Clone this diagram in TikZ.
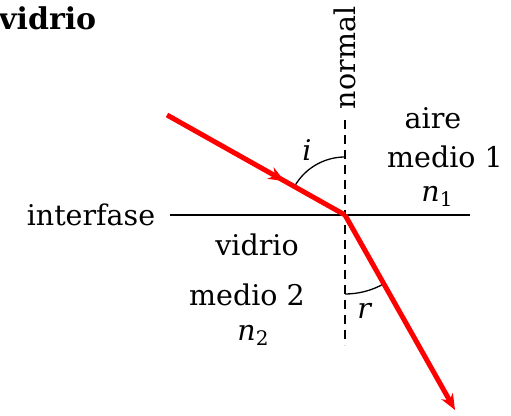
\documentclass[tikz,border=0pt]{standalone}
\usepackage{fontspec}
\setmainfont{DejaVu Serif}
\usetikzlibrary{arrows.meta,decorations.markings}
\newcommand{\sbs}[2]{\textit{#1}\raisebox{-0.35ex}{\fontsize{20}{24}\selectfont #2}}
\begin{document}
\begin{tikzpicture}[x=1pt,y=1pt,
  lbl/.style={font=\fontsize{28.5}{32}\selectfont, inner sep=0pt},
  ray/.style={red, line width=5pt},
  thin/.style={black, line width=1.6pt},
  dsh/.style={black, line width=1.6pt, dash pattern=on 9pt off 6pt}]
\useasboundingbox (0,0) rectangle (511,415);
\coordinate (O) at (345,200);
\coordinate (A) at (167,300);
\coordinate (B) at (455,5);
\coordinate (L) at (170,200);
\coordinate (R) at (470,200);
\coordinate (NT) at (345,295);
\coordinate (NB) at (345,70);
\node[lbl, font=\fontsize{30}{34}\selectfont\bfseries, anchor=west] (title) at (-1,397) {vidrio};
\node[lbl, rotate=90] (normal) at (345,357) {normal};
\node[lbl] (interfase) at (91,200) {interfase};
\node[lbl] (aire) at (433,297) {aire};
\node[lbl] (m1) at (445,258) {medio 1};
\node[lbl] (n1) at (437,219) {\sbs{n}{1}};
\node[lbl] (vid) at (257,170) {vidrio};
\node[lbl] (m2) at (247,120) {medio 2};
\node[lbl] (n2) at (253,80) {\sbs{n}{2}};
\node[lbl] (ilab) at (307,265) {\textit{i}};
\node[lbl] (rlab) at (365,104) {\textit{r}};
\draw[thin] (L) -- (R);
\draw[dsh] (NT) -- (NB);
\draw[thin, line width=1.3pt] (345,258) arc[start angle=90, end angle=150.7, radius=58];
\draw[thin, line width=1.3pt] (345,121) arc[start angle=270, end angle=299.4, radius=79];
\draw[ray, postaction={decorate}, decoration={markings, mark=at position 0.66 with {\arrow{Stealth[length=16pt,width=13pt]}}}] (A) -- (O);
\draw[ray, -{Stealth[length=16pt,width=13pt]}] (O) -- (B);
\end{tikzpicture}
\end{document}
